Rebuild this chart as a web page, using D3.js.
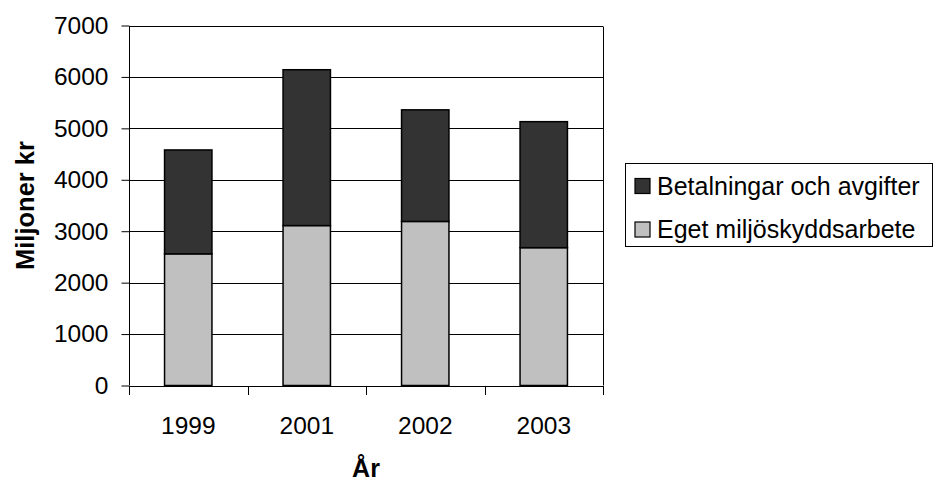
<!DOCTYPE html>
<html><head><meta charset="utf-8">
<script src="https://cdn.jsdelivr.net/npm/d3@7"></script>
<style>body{margin:0;background:#fff}svg{display:block}text{font-family:"Liberation Sans",Arial,sans-serif;fill:#000}</style>
</head><body>
<svg id="c" width="935" height="481"></svg>
<script>
const years = ["1999","2001","2002","2003"];
const eget = [2560, 3110, 3190, 2680];
const betal = [2020, 3030, 2170, 2450];
const seriesNames = ["Betalningar och avgifter","Eget miljöskyddsarbete"];
const yTicks = [0,1000,2000,3000,4000,5000,6000,7000];

const svg = d3.select("#c");
const L=129, R=603, T=25.5, B=385.5;
const x = d3.scaleBand().domain(years).range([L,R]).paddingInner(0.6).paddingOuter(0.3);
const xb = d3.scaleBand().domain(years).range([L,R]);
const y = d3.scaleLinear().domain([0,7000]).range([B,T]);

// gridlines
svg.append("g").selectAll("line").data(yTicks.filter(d=>d>0)).join("line")
  .attr("x1",L).attr("x2",R).attr("y1",d=>Math.round(y(d))+0.5).attr("y2",d=>Math.round(y(d))+0.5)
  .attr("stroke","#000").attr("stroke-width",1);
// right border
svg.append("line").attr("x1",R+0.5).attr("x2",R+0.5).attr("y1",Math.round(T)+0.5).attr("y2",B).attr("stroke","#000");

const stack = d3.stack().keys(["eget","betal"])(years.map((yr,i)=>({yr,eget:eget[i],betal:betal[i]})));
const colors = {eget:"#c0c0c0", betal:"#333333"};
stack.forEach(s=>{
  svg.append("g").selectAll("rect").data(s).join("rect")
    .attr("x",d=>x(d.data.yr)).attr("width",x.bandwidth())
    .attr("y",d=>y(d[1])).attr("height",d=>y(d[0])-y(d[1]))
    .attr("fill",colors[s.key]).attr("stroke","#000").attr("stroke-width",1.5);
});

// y axis
const ya = svg.append("g").attr("transform",`translate(${L+0.5},0)`)
  .call(d3.axisLeft(y).tickValues(yTicks).tickSize(8).tickPadding(13).tickFormat(d3.format("d")));
ya.select(".domain").attr("stroke","#000").attr("d",`M0,${Math.round(T)}V${B}`);
ya.selectAll(".tick line").attr("stroke","#000");
ya.selectAll("text").attr("font-size",24.5).attr("font-family","Liberation Sans, Arial").attr("fill","#000");

// x axis
const xa = svg.append("g").attr("transform",`translate(0,${Math.round(B)+0.5})`)
  .call(d3.axisBottom(xb).tickSize(0).tickPadding(30));
xa.select(".domain").attr("stroke","#000").attr("d",`M${L},0H${R+1}`);
xa.selectAll("text").attr("font-size",24.5).attr("font-family","Liberation Sans, Arial").attr("fill","#000").attr("dy","0");
xa.selectAll(".tick text").attr("y",47);
svg.append("g").selectAll("line").data(years.map(d=>xb(d)).concat([R])).join("line")
  .attr("x1",d=>Math.round(d)+0.5).attr("x2",d=>Math.round(d)+0.5)
  .attr("y1",Math.round(B)).attr("y2",Math.round(B)+9).attr("stroke","#000");

// axis titles
svg.append("text").attr("x",(L+R)/2).attr("y",477).attr("text-anchor","middle")
  .attr("font-size",25).attr("font-weight","bold").text("År");
svg.append("text").attr("transform",`translate(34,${(T+B)/2}) rotate(-90)`).attr("text-anchor","middle")
  .attr("font-size",25.5).attr("font-weight","bold").text("Miljoner kr");

// legend
const lg = svg.append("g");
lg.append("rect").attr("x",625.5).attr("y",163.5).attr("width",307).attr("height",83)
  .attr("fill","#fff").attr("stroke","#000").attr("stroke-width",1);
const items = [{n:seriesNames[0],c:colors.betal},{n:seriesNames[1],c:colors.eget}];
items.forEach((it,i)=>{
  const cy = 186 + i*43.5;
  lg.append("rect").attr("x",635).attr("y",cy-7.5).attr("width",15).attr("height",15)
    .attr("fill",it.c).attr("stroke","#000").attr("stroke-width",1.2);
  lg.append("text").attr("x",657).attr("y",cy+8.5).attr("font-size",25).text(it.n);
});
</script>
</body></html>
